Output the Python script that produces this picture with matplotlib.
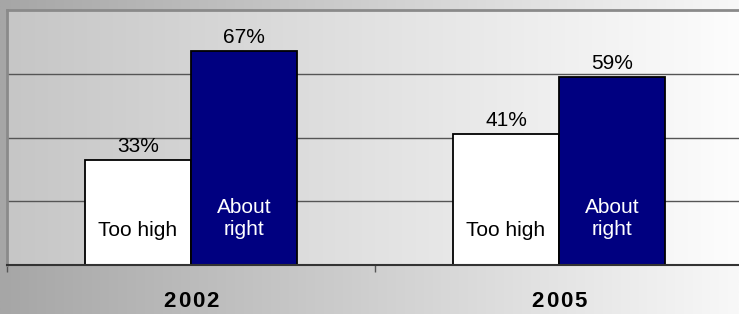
import numpy as np
import matplotlib.pyplot as plt
from matplotlib import font_manager
from matplotlib.colors import LinearSegmentedColormap

years = ["2002", "2005"]
too_high = [33, 41]
about_right = [67, 59]

plt.rcParams["font.family"] = ["Liberation Sans", "DejaVu Sans"]
names = {f.name for f in font_manager.fontManager.ttflist}
narrow = "Liberation Sans Narrow" if "Liberation Sans Narrow" in names else "Liberation Sans"

W, H = 739, 314
fig = plt.figure(figsize=(W / 100, H / 100), dpi=100)

# figure background: horizontal grey -> white gradient
bg = fig.add_axes([0, 0, 1, 1], zorder=-10)
bg_cmap = LinearSegmentedColormap.from_list("bg", ["#a6a6a6", "#cfcfcf", "#f8f8f8"])
bg.imshow(np.linspace(0, 1, 256)[None, :], aspect="auto", cmap=bg_cmap, extent=[0, 1, 0, 1])
bg.set_axis_off()

left, right, top, bottom = 7, 743, 10, 265
ax = fig.add_axes([left / W, (H - bottom) / H, (right - left) / W, (bottom - top) / H])
ax.set_xlim(-0.5, 1.5)
ax.set_ylim(0, 80)

area_cmap = LinearSegmentedColormap.from_list("area", ["#c6c6c6", "#e2e2e2", "#fdfdfd"])
ax.imshow(np.linspace(0, 1, 256)[None, :], aspect="auto", cmap=area_cmap,
          extent=[-0.5, 1.5, 0, 80], zorder=0)

for g in [20, 40, 60]:
    ax.axhline(g, color="#555555", lw=1.0, zorder=1)

x = np.arange(len(years))
w = 0.288
ax.bar(x - w / 2, too_high, w, color="white", edgecolor="black", lw=1.3, zorder=2)
ax.bar(x + w / 2, about_right, w, color="#000080", edgecolor="black", lw=1.3, zorder=2)

fs = 15
for i in range(len(years)):
    ax.annotate(f"{too_high[i]}%", (x[i] - w / 2, too_high[i]), xytext=(0, 3),
                textcoords="offset points", ha="center", va="bottom", fontsize=fs)
    ax.annotate(f"{about_right[i]}%", (x[i] + w / 2, about_right[i]), xytext=(0, 3),
                textcoords="offset points", ha="center", va="bottom", fontsize=fs)
    ax.text(x[i] - w / 2, 10.7, "Too high", ha="center", va="center", fontsize=fs, color="black", zorder=3)
    ax.text(x[i] + w / 2, 14.7, "About\nright", ha="center", va="center", fontsize=fs,
            color="white", linespacing=1.2, zorder=3)

for s in ["right", "bottom"]:
    ax.spines[s].set_visible(False)
ax.spines["top"].set_color("#8a8a8a")
ax.spines["top"].set_linewidth(2)
ax.spines["left"].set_color("#8a8a8a")
ax.spines["left"].set_linewidth(2)
ax.axhline(0, color="#333333", lw=1.5, zorder=4, clip_on=False)

ax.set_yticks([])
ax.set_xticks([-0.5, 0.5, 1.5])
ax.set_xticklabels([])
ax.tick_params(axis="x", direction="out", length=5, width=1, color="#555555")

# letter-spaced year labels, one glyph at a time
pitch = 14.3 / 368  # px between digits, in data units
for i, yr in enumerate(years):
    for k, ch in enumerate(yr):
        ax.text(x[i] + (k - 1.5) * pitch, -11.6, ch, ha="center", va="center",
                fontsize=16, fontweight="bold", family=narrow, clip_on=False)

fig.savefig("out.png", dpi=100)
